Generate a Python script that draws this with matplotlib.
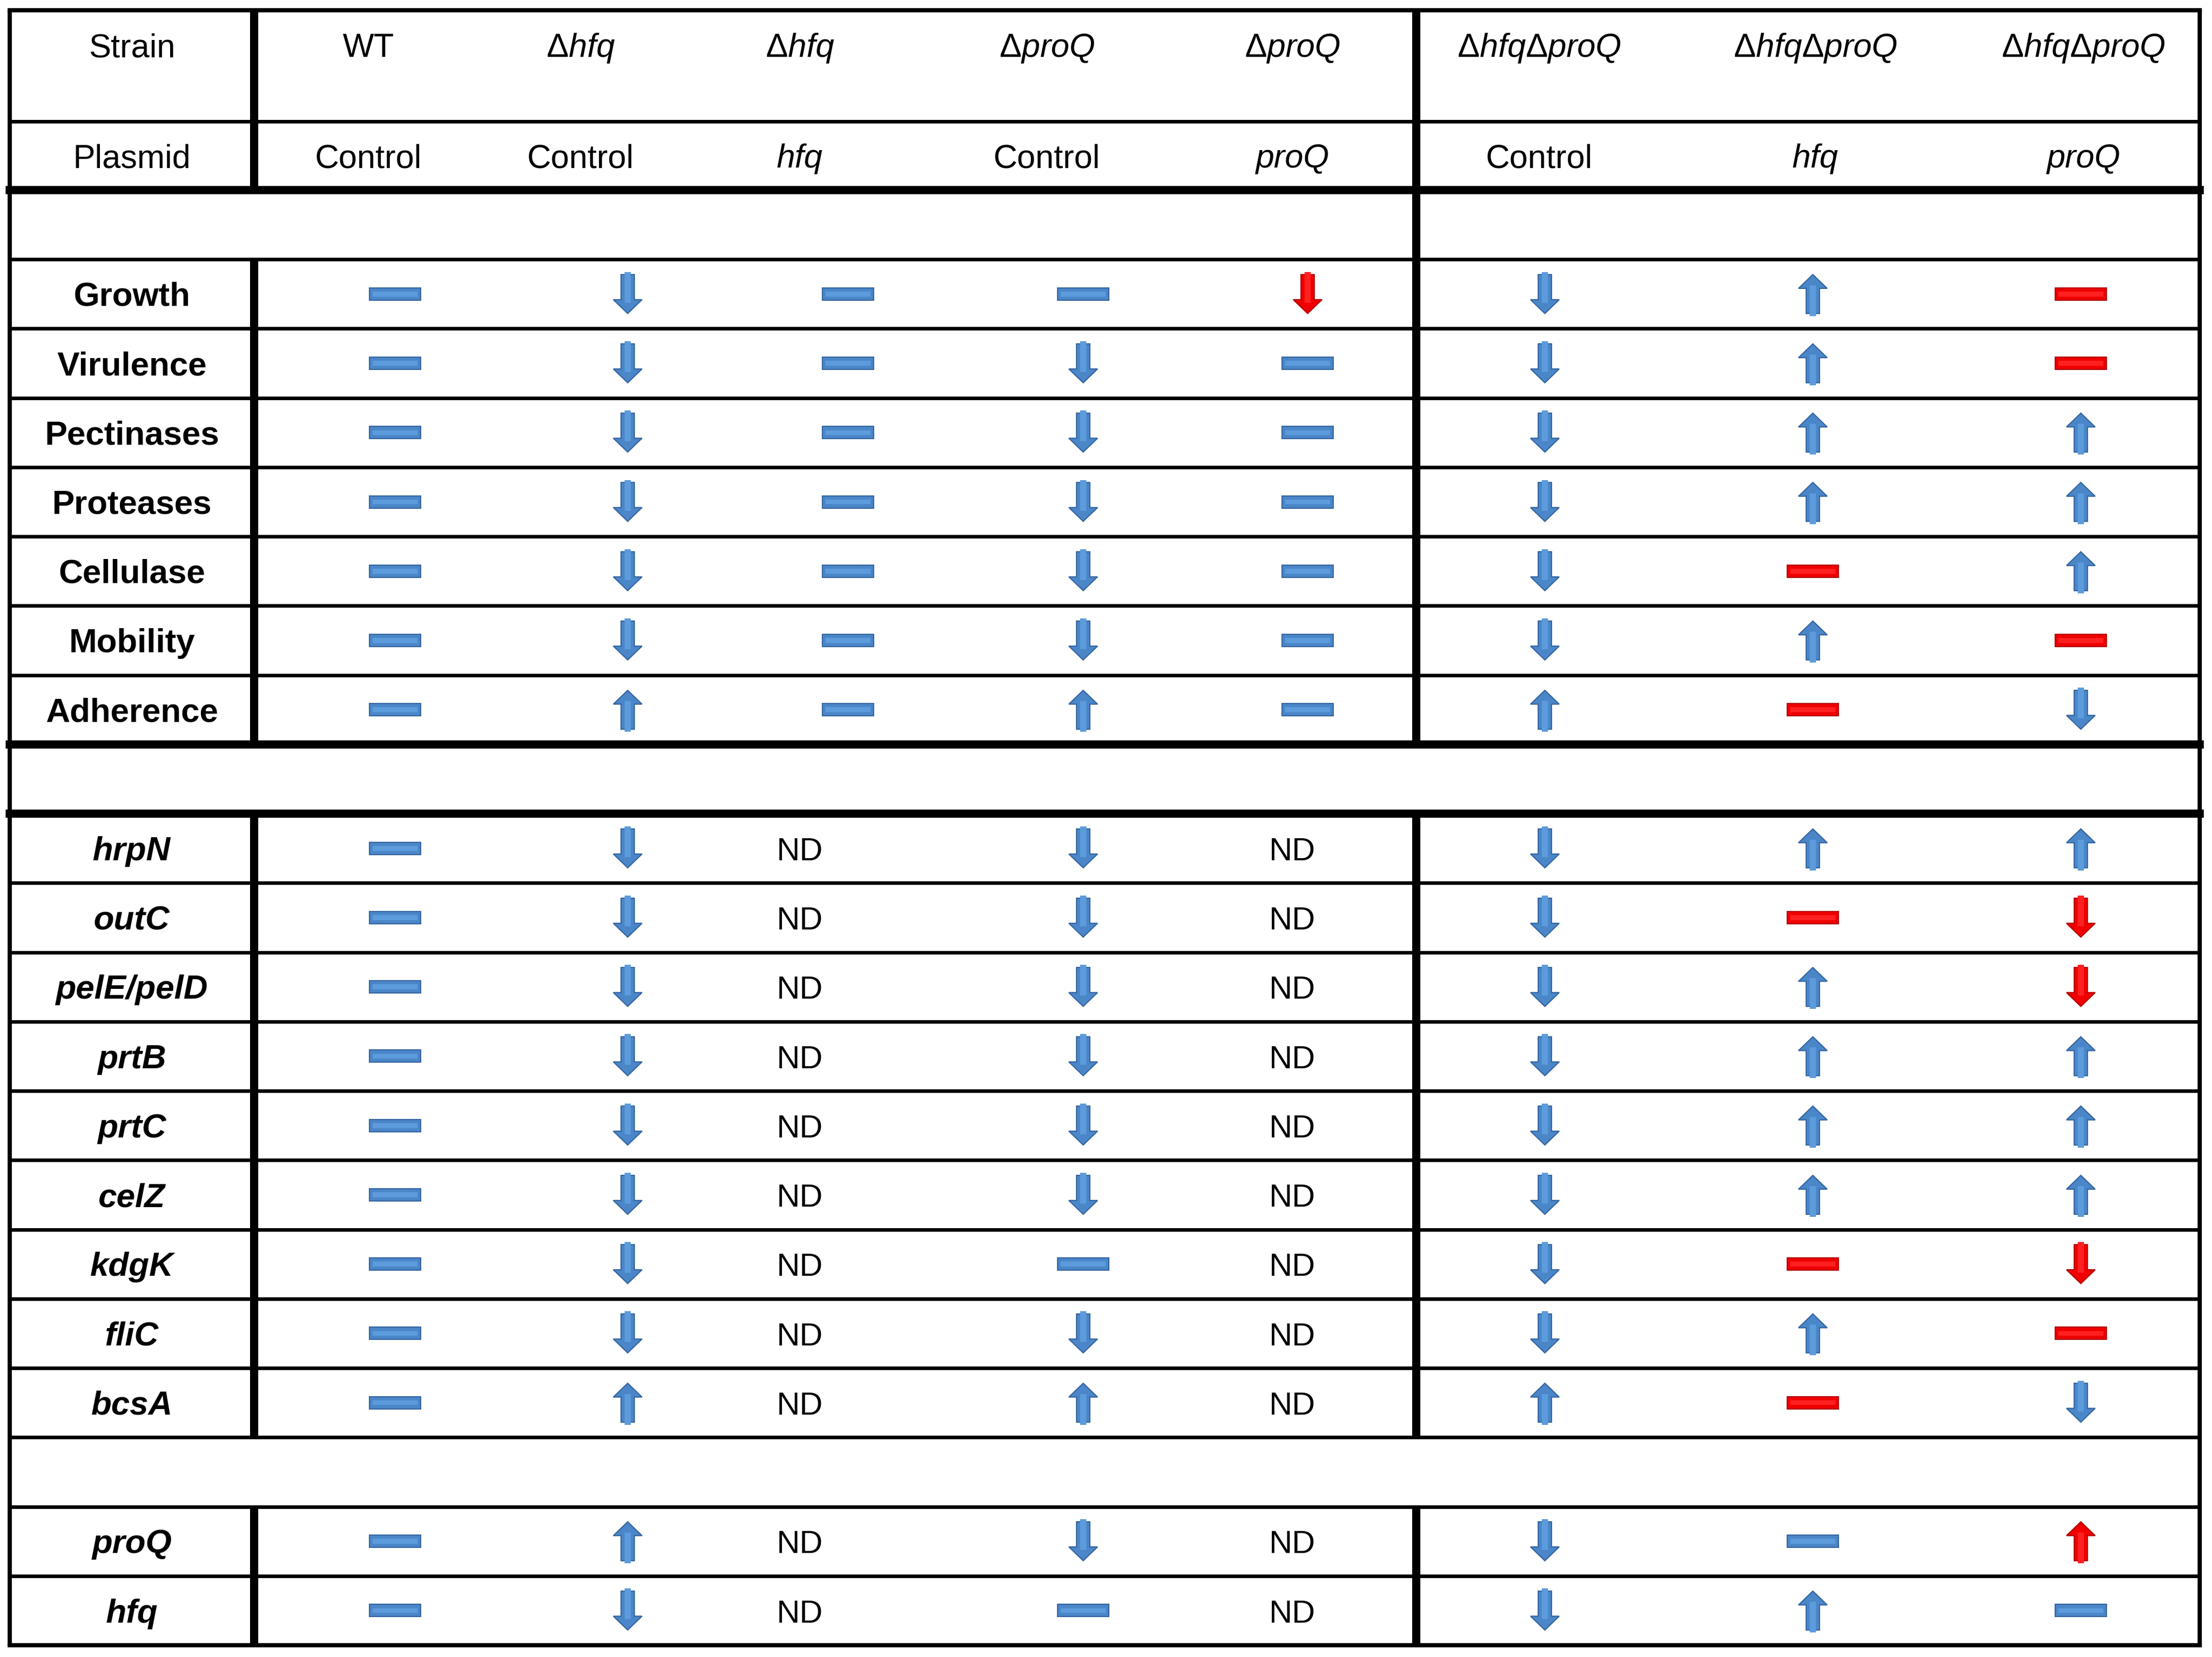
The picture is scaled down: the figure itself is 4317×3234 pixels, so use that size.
import matplotlib
matplotlib.use('Agg')
import matplotlib.pyplot as plt
from matplotlib.patches import Polygon, Rectangle

plt.rcParams['font.family'] = ['Liberation Sans', 'DejaVu Sans']
plt.rcParams['mathtext.fontset'] = 'custom'
plt.rcParams['mathtext.rm'] = 'Liberation Sans'
plt.rcParams['mathtext.it'] = 'Liberation Sans:italic'
plt.rcParams['mathtext.bf'] = 'Liberation Sans:bold'

# ---------------- data ----------------
strains = ['WT', 'Δ$\\mathit{hfq}$', 'Δ$\\mathit{hfq}$', 'Δ$\\mathit{proQ}$', 'Δ$\\mathit{proQ}$',
           'Δ$\\mathit{hfq}$Δ$\\mathit{proQ}$', 'Δ$\\mathit{hfq}$Δ$\\mathit{proQ}$',
           'Δ$\\mathit{hfq}$Δ$\\mathit{proQ}$']
plasmids = ['Control', 'Control', 'hfq', 'Control', 'proQ', 'Control', 'hfq', 'proQ']
plasmid_italic = [False, False, True, False, True, False, True, True]

# codes: up / dn / eq = blue symbols; UP / DN / EQ = red symbols; ND = not determined
phenotypes = ['Growth', 'Virulence', 'Pectinases', 'Proteases', 'Cellulase', 'Mobility', 'Adherence']
phenotype_values = [
    ['eq', 'dn', 'eq', 'eq', 'DN', 'dn', 'up', 'EQ'],
    ['eq', 'dn', 'eq', 'dn', 'eq', 'dn', 'up', 'EQ'],
    ['eq', 'dn', 'eq', 'dn', 'eq', 'dn', 'up', 'up'],
    ['eq', 'dn', 'eq', 'dn', 'eq', 'dn', 'up', 'up'],
    ['eq', 'dn', 'eq', 'dn', 'eq', 'dn', 'EQ', 'up'],
    ['eq', 'dn', 'eq', 'dn', 'eq', 'dn', 'up', 'EQ'],
    ['eq', 'up', 'eq', 'up', 'eq', 'up', 'EQ', 'dn'],
]

target_genes = ['hrpN', 'outC', 'pelE/pelD', 'prtB', 'prtC', 'celZ', 'kdgK', 'fliC', 'bcsA']
target_values = [
    ['eq', 'dn', 'ND', 'dn', 'ND', 'dn', 'up', 'up'],
    ['eq', 'dn', 'ND', 'dn', 'ND', 'dn', 'EQ', 'DN'],
    ['eq', 'dn', 'ND', 'dn', 'ND', 'dn', 'up', 'DN'],
    ['eq', 'dn', 'ND', 'dn', 'ND', 'dn', 'up', 'up'],
    ['eq', 'dn', 'ND', 'dn', 'ND', 'dn', 'up', 'up'],
    ['eq', 'dn', 'ND', 'dn', 'ND', 'dn', 'up', 'up'],
    ['eq', 'dn', 'ND', 'eq', 'ND', 'dn', 'EQ', 'DN'],
    ['eq', 'dn', 'ND', 'dn', 'ND', 'dn', 'up', 'EQ'],
    ['eq', 'up', 'ND', 'up', 'ND', 'up', 'EQ', 'dn'],
]

regulator_genes = ['proQ', 'hfq']
regulator_values = [
    ['eq', 'up', 'ND', 'dn', 'ND', 'dn', 'eq', 'UP'],
    ['eq', 'dn', 'ND', 'eq', 'ND', 'dn', 'up', 'eq'],
]

# ---------------- layout ----------------
W, H = 4317, 3234
X_L, X_R = 19, 4293
X_SEP1, X_SEP2 = 496, 2764
Y_TOP, Y_HDR1, Y_HDR2, Y_BOT = 20, 237, 371, 3211
TEXT_X = [719, 1133, 1561, 2043, 2522, 3004, 3543, 4066]
SYM_X = [771, 1225, 1655, 2114, 2552, 3015, 3538, 4061]
LABEL_X = (X_L + X_SEP1) / 2

BLUE_FC, BLUE_EC, BLUE_HL = '#4A86C8', '#34649E', '#5C9BDC'
RED_FC, RED_EC, RED_HL = '#F00000', '#B00000', '#FF2020'
FS = 46.5
THIN, OUTER, THICK = 5.0, 6.0, 11.5
CAP = 0.716 * FS / 0.72  # cap height in px

# body rows: None = spacer row
body = [None]
body += [(p, v, False) for p, v in zip(phenotypes, phenotype_values)]
body += [None]
body += [(g, v, True) for g, v in zip(target_genes, target_values)]
body += [None]
body += [(g, v, True) for g, v in zip(regulator_genes, regulator_values)]
ROW_H = (Y_BOT - Y_HDR2) / len(body)
THICK_ROWS = (0, 8, 9)

fig = plt.figure(figsize=(W / 100, H / 100), dpi=100)
ax = fig.add_axes([0, 0, 1, 1])
ax.set_xlim(0, W)
ax.set_ylim(H, 0)
ax.axis('off')


def hline(y, lw):
    ax.plot([X_L, X_R], [y, y], color='black', lw=lw, solid_capstyle='projecting', zorder=3)


def vline(x, y0, y1, lw):
    ax.plot([x, x], [y0, y1], color='black', lw=lw, solid_capstyle='butt', zorder=2)


def symbol(x, y, code):
    red = code.isupper()
    kind = code.lower()
    fc, ec, hl = (RED_FC, RED_EC, RED_HL) if red else (BLUE_FC, BLUE_EC, BLUE_HL)
    if kind == 'eq':
        w, h = 100, 24
        pts = [(x - w / 2, y - h / 2), (x + w / 2, y - h / 2), (x + w / 2, y + h / 2), (x - w / 2, y + h / 2)]
        ax.add_patch(Polygon(pts, closed=True, facecolor=fc, edgecolor=ec, lw=1.6, zorder=4))
        ax.add_patch(Rectangle((x - w / 2 + 6, y - h * 0.2), w - 12, h * 0.4,
                               facecolor=hl, edgecolor='none', zorder=5))
    else:
        L, hh, sw, hw = 76, 27, 26, 56
        s = -1 if kind == 'up' else 1  # direction of tip (y grows downward)
        tip = y + s * L / 2
        tail = y - s * L / 2
        base = tip - s * hh
        pts = [(x - sw / 2, tail), (x + sw / 2, tail), (x + sw / 2, base), (x + hw / 2, base),
               (x, tip), (x - hw / 2, base), (x - sw / 2, base)]
        ax.add_patch(Polygon(pts, closed=True, facecolor=fc, edgecolor=ec, lw=1.6, zorder=4))
        y_a, y_b = sorted([tail - s * 5, base + s * 6])
        ax.add_patch(Rectangle((x - sw * 0.22, y_a), sw * 0.44, y_b - y_a,
                               facecolor=hl, edgecolor='none', zorder=5))


# ---------------- header ----------------
ax.text(LABEL_X, 111, 'Strain', ha='center', va='baseline', fontsize=FS)
ax.text(LABEL_X, 327, 'Plasmid', ha='center', va='baseline', fontsize=FS)
for x, s in zip(TEXT_X, strains):
    ax.text(x, 111, s, ha='center', va='baseline', fontsize=FS)
for x, p, it in zip(TEXT_X, plasmids, plasmid_italic):
    ax.text(x, 327, p, ha='center', va='baseline', fontsize=FS, style='italic' if it else 'normal')

# ---------------- body ----------------
for i, row in enumerate(body):
    y0 = Y_HDR2 + i * ROW_H
    yc = y0 + ROW_H / 2
    if row is None:
        continue
    label, vals, italic = row
    ax.text(LABEL_X, yc + CAP / 2, label, ha='center', va='baseline', fontsize=FS + 0.5,
            fontweight='bold', style='italic' if italic else 'normal')
    for j, v in enumerate(vals):
        if v == 'ND':
            ax.text(TEXT_X[j], yc + CAP / 2, 'ND', ha='center', va='baseline', fontsize=FS - 1.5)
        else:
            symbol(SYM_X[j], yc, v)

# ---------------- grid lines ----------------
hline(Y_TOP, OUTER)
hline(Y_HDR1, THIN)
hline(Y_BOT, OUTER)
for i in range(len(body)):
    hline(Y_HDR2 + i * ROW_H, THICK if i in THICK_ROWS else THIN)

vline(X_L, Y_TOP, Y_BOT, OUTER)
vline(X_R, Y_TOP, Y_BOT, OUTER)
vline(X_SEP1, Y_TOP, Y_HDR2, THICK)
vline(X_SEP2, Y_TOP, Y_HDR2 + ROW_H, THICK)
# vertical separators through each block of data rows
i = 0
while i < len(body):
    if body[i] is None:
        i += 1
        continue
    j = i
    while j < len(body) and body[j] is not None:
        j += 1
    ya, yb = Y_HDR2 + i * ROW_H, Y_HDR2 + j * ROW_H
    vline(X_SEP1, ya, yb, THICK)
    vline(X_SEP2, ya, yb, THICK)
    i = j

fig.savefig('out.png', dpi=100, facecolor='white')
